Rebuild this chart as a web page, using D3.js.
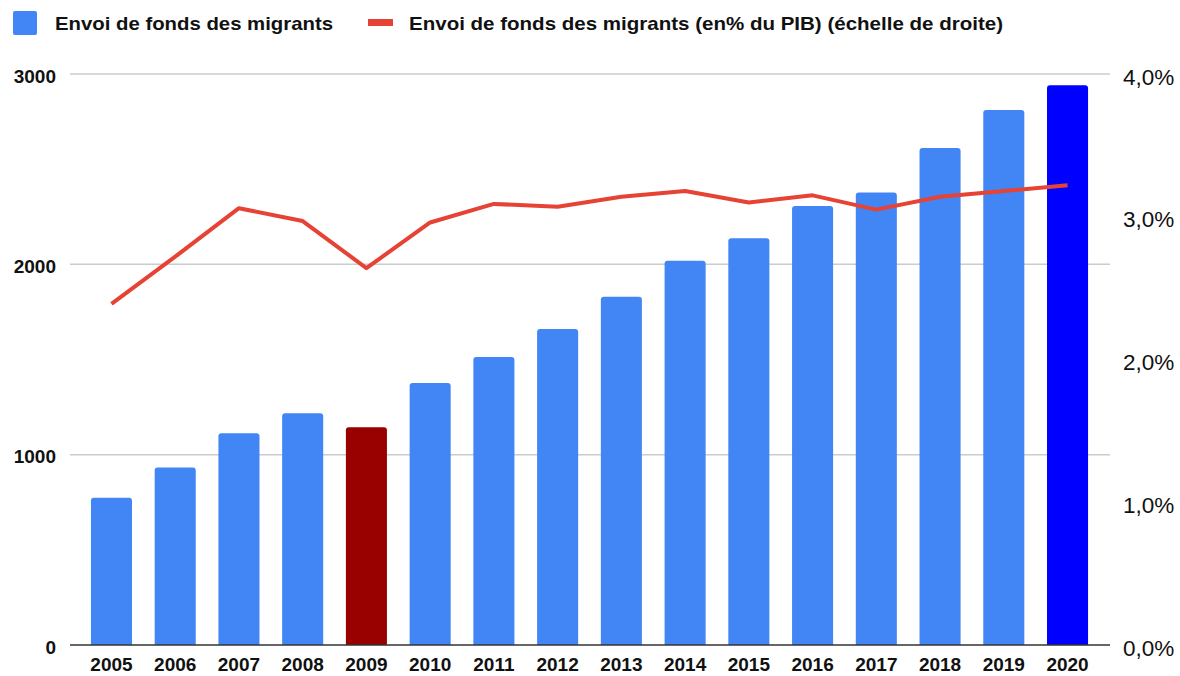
<!DOCTYPE html>
<meta charset="utf-8">
<style>
  body { margin: 0; background: #fff; }
  svg text { font-family: "Liberation Sans", Arial, sans-serif; }
  .grid line { stroke: #cccccc; stroke-width: 1.5px; }
  .line { fill: none; stroke: #e64335; stroke-width: 4px; stroke-linejoin: round; }
</style>
<body>
<script src="https://d3js.org/d3.v7.min.js"></script>
<script>
// data
var years = ["2005","2006","2007","2008","2009","2010","2011","2012",
             "2013","2014","2015","2016","2017","2018","2019","2020"];
var remittances = [774, 932, 1112, 1217, 1144, 1376, 1513, 1660,
                   1830, 2019, 2137, 2307, 2378, 2611, 2811, 2941];
var pctGdp = [2.39, 2.72, 3.06, 2.97, 2.64, 2.96, 3.09, 3.07,
              3.14, 3.18, 3.10, 3.15, 3.05, 3.14, 3.18, 3.22];
var leftTicks = [0, 1000, 2000, 3000];
var rightTicks = [0, 1, 2, 3, 4];
var seriesNames = ["Envoi de fonds des migrants",
                   "Envoi de fonds des migrants (en% du PIB) (échelle de droite)"];

var W = 1180, H = 676;
var plotLeft = 70, plotRight = 1110, plotTop = 74, plotBottom = 645;

var svg = d3.select("body").append("svg")
    .attr("width", W).attr("height", H);

var x = d3.scaleBand().domain(years).range([79.6, 1099.4]).paddingInner(0.356).paddingOuter(0.178);
var y = d3.scaleLinear().domain([0, 3000]).range([plotBottom, plotTop]);
var y2 = d3.scaleLinear().domain([0, 4]).range([plotBottom, plotTop]);

// gridlines
svg.append("g").attr("class", "grid")
  .selectAll("line").data(leftTicks.slice(1)).enter().append("line")
  .attr("x1", plotLeft).attr("x2", plotRight)
  .attr("y1", function (d) { return y(d); })
  .attr("y2", function (d) { return y(d); });

// bars
function barColor(d, i) {
  if (years[i] === "2009") return "#990000";
  if (years[i] === "2020") return "#0000ff";
  return "#4285f4";
}
svg.append("g").selectAll("path").data(remittances).enter().append("path")
  .attr("fill", barColor)
  .attr("d", function (d, i) {
    var x0 = x(years[i]), w = x.bandwidth(), y0 = y(d), r = 3;
    return "M" + x0 + "," + plotBottom + "V" + (y0 + r) +
      "Q" + x0 + "," + y0 + " " + (x0 + r) + "," + y0 +
      "H" + (x0 + w - r) +
      "Q" + (x0 + w) + "," + y0 + " " + (x0 + w) + "," + (y0 + r) +
      "V" + plotBottom + "Z";
  });

// baseline
svg.append("line").attr("x1", plotLeft).attr("x2", plotRight)
  .attr("y1", plotBottom).attr("y2", plotBottom)
  .attr("stroke", "#333").attr("stroke-width", 1.5);

// line series
var line = d3.line()
  .x(function (d, i) { return x(years[i]) + x.bandwidth() / 2; })
  .y(function (d) { return y2(d); });
svg.append("path").datum(pctGdp).attr("class", "line").attr("d", line);

// left axis
var axL = svg.append("g").attr("transform", "translate(" + (plotLeft - 14) + ",2)")
  .call(d3.axisLeft(y).tickValues(leftTicks).tickSize(0).tickPadding(0)
    .tickFormat(d3.format("d")));
axL.select(".domain").remove();
axL.selectAll("text").attr("font-size", 19).attr("font-weight", "bold")
  .attr("fill", "#111").attr("font-family", "Liberation Sans, Arial, sans-serif");

// right axis
var axR = svg.append("g").attr("transform", "translate(" + (plotRight + 13) + ",3)")
  .call(d3.axisRight(y2).tickValues(rightTicks).tickSize(0).tickPadding(0)
    .tickFormat(function (d) { return d3.format(".1f")(d).replace(".", ",") + "%"; }));
axR.select(".domain").remove();
axR.selectAll("text").attr("font-size", 22.5).attr("fill", "#111")
  .attr("font-family", "Liberation Sans, Arial, sans-serif");

// bottom axis
var axB = svg.append("g").attr("transform", "translate(0," + plotBottom + ")")
  .call(d3.axisBottom(x).tickSize(0).tickPadding(13));
axB.select(".domain").remove();
axB.selectAll("text").attr("font-size", 19).attr("font-weight", "bold")
  .attr("fill", "#111").attr("font-family", "Liberation Sans, Arial, sans-serif");

// legend
var lg = svg.append("g");
lg.append("rect").attr("x", 13).attr("y", 11).attr("width", 24).attr("height", 24)
  .attr("rx", 2).attr("fill", "#4285f4");
lg.append("text").attr("x", 55).attr("y", 29.5).text(seriesNames[0])
  .attr("font-size", 19).attr("font-weight", "bold").attr("fill", "#111")
  .attr("textLength", 278).attr("lengthAdjust", "spacingAndGlyphs");
lg.append("rect").attr("x", 368).attr("y", 19).attr("width", 25).attr("height", 7)
  .attr("fill", "#e64335");
lg.append("text").attr("x", 409).attr("y", 29.5).text(seriesNames[1])
  .attr("font-size", 19).attr("font-weight", "bold").attr("fill", "#111")
  .attr("textLength", 594).attr("lengthAdjust", "spacingAndGlyphs");
</script>
</body>
